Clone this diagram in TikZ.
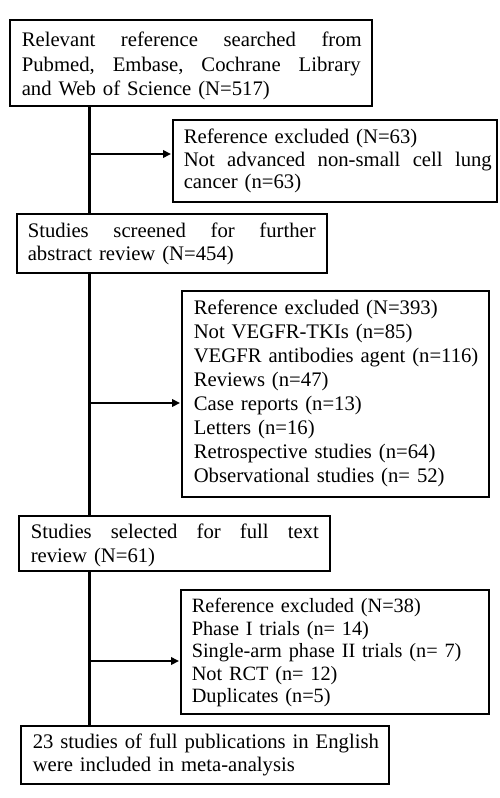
\documentclass[tikz,border=0pt]{standalone}
\usepackage{fontspec}
\setmainfont{Liberation Serif}
\usetikzlibrary{arrows.meta}
\setlength{\parindent}{0pt}
\newcommand{\jl}[2]{\leavevmode\hbox to #1{#2}}
\newcommand{\tops}[1]{\rule{0pt}{#1}}
\newcommand{\bots}{\rule[-5pt]{0pt}{5pt}}
\begin{document}
\begin{tikzpicture}[x=1pt,y=-1pt,
  box/.style={draw, line width=1.6pt, anchor=north west, inner ysep=0pt, align=left},
  fs/.style={font=\fontsize{20.7}{#1}\selectfont},
  trunk/.style={line width=3pt},
  branch/.style={line width=2.6pt, -{Triangle[length=8pt,width=7.5pt]}, shorten >=1pt}]
\useasboundingbox (0,0) rectangle (500,798);
\fill[white] (0,0) rectangle (500,798);

\node[box, fs=24.5, inner xsep=12pt, text width=338pt, minimum width=362pt, minimum height=86pt] (b1) at (9,19)
  {\tops{22pt}\jl{340pt}{Relevant\hfill reference\hfill searched\hfill from}\\
   \jl{339pt}{Pubmed,\hfill Embase,\hfill Cochrane\hfill Library}\\
   \mbox{and Web of Science (N=517)}\bots};

\node[box, fs=22.5, inner xsep=11pt, text width=302pt, minimum width=324pt, minimum height=82pt] (b2) at (172,119)
  {\tops{16pt}\mbox{Reference excluded (N=63)}\\
   \jl{308pt}{Not\hfill advanced\hfill non-small\hfill cell\hfill lung}\\
   \mbox{cancer (n=63)}\bots};

\node[box, fs=22.5, inner xsep=11pt, text width=288pt, minimum width=310pt, minimum height=59pt] (b3) at (16,213)
  {\tops{16pt}\jl{288pt}{Studies\hfill screened\hfill for\hfill further}\\
   \mbox{abstract review (N=454)}\bots};

\node[box, fs=24, inner xsep=12pt, text width=283pt, minimum width=307pt, minimum height=206pt] (b4) at (181,290)
  {\tops{15pt}\mbox{Reference excluded (N=393)}\\
   \mbox{Not VEGFR-TKIs (n=85)}\\
   \mbox{VEGFR antibodies agent (n=116)}\\
   \mbox{Reviews (n=47)}\\
   \mbox{Case reports (n=13)}\\
   \mbox{Letters (n=16)}\\
   \mbox{Retrospective studies (n=64)}\\
   \mbox{Observational studies (n= 52)}\bots};

\node[box, fs=24, inner xsep=12pt, text width=287pt, minimum width=311pt, minimum height=55pt] (b5) at (18,515)
  {\tops{20pt}\jl{288pt}{Studies\hfill selected\hfill for\hfill full\hfill text}\\
   \mbox{review (N=61)}\bots};

\node[box, font=\fontsize{20.3}{22.5}\selectfont, inner xsep=11pt, text width=286pt, minimum width=308pt, minimum height=124pt] (b6) at (180,589)
  {\tops{17pt}\mbox{Reference excluded (N=38)}\\
   \mbox{Phase I trials (n= 14)}\\
   \mbox{Single-arm phase II trials (n= 7)}\\
   \mbox{Not RCT (n= 12)}\\
   \mbox{Duplicates (n=5)}\bots};

\node[box, fs=23, inner xsep=12pt, text width=344pt, minimum width=368pt, minimum height=58pt] (b7) at (20,725)
  {\tops{15pt}\mbox{23 studies of full publications in English}\\
   \mbox{were included in meta-analysis}\bots};

\coordinate (t) at (89.5,0);
\coordinate (j1) at (89.5,154);
\coordinate (j2) at (89.5,403);
\coordinate (j3) at (89.5,661);

\draw[trunk] (b1.south -| t) -- (b3.north -| t);
\draw[trunk] (b3.south -| t) -- (b5.north -| t);
\draw[trunk] (b5.south -| t) -- (b7.north -| t);

\draw[branch] (j1) -- (j1 -| b2.west);
\draw[branch] (j2) -- (j2 -| b4.west);
\draw[branch] (j3) -- (j3 -| b6.west);
\end{tikzpicture}
\end{document}
